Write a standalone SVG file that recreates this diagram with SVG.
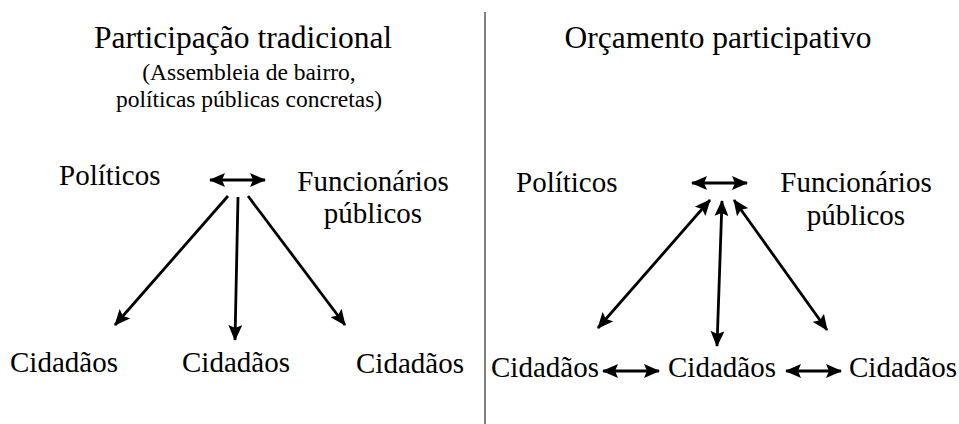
<svg xmlns="http://www.w3.org/2000/svg" width="959" height="424" viewBox="0 0 959 424">
<style>
text{font-family:"Liberation Serif","Times New Roman",serif;fill:#000}
.t{font-size:31.5px;text-anchor:middle}
.s{font-size:23.5px;text-anchor:middle}
.l{font-size:29px}
.c line{stroke:#000;stroke-width:2.8}
</style>
<defs>
<marker id="a" viewBox="0 0 16 14" refX="15" refY="7" markerWidth="16" markerHeight="14" orient="auto-start-reverse" markerUnits="userSpaceOnUse">
<path d="M0,0 L16,7 L0,14 L3,7 Z" fill="#000"/>
</marker>
</defs>
<rect width="959" height="424" fill="#fff"/>
<line x1="485" y1="12" x2="485" y2="424" stroke="#000" stroke-width="1"/>
<g id="title-left"><text class="t" x="243" y="48">Participação tradicional</text>
<text class="s" x="249" y="80">(Assembleia de bairro,</text>
<text class="s" x="249" y="107">políticas públicas concretas)</text></g>
<g id="title-right"><text class="t" x="718" y="48">Orçamento participativo</text></g>
<g id="L-politicos"><text class="l" x="59" y="185">Políticos</text></g>
<g id="L-funcionarios"><text class="l" x="373" y="191" text-anchor="middle">Funcionários</text><text class="l" x="373" y="223" text-anchor="middle">públicos</text></g>
<g id="L-cid1"><text class="l" x="64" y="372" text-anchor="middle">Cidadãos</text></g>
<g id="L-cid2"><text class="l" x="236" y="372" text-anchor="middle">Cidadãos</text></g>
<g id="L-cid3"><text class="l" x="410" y="373" text-anchor="middle">Cidadãos</text></g>
<g id="R-politicos"><text class="l" x="516" y="192">Políticos</text></g>
<g id="R-funcionarios"><text class="l" x="856" y="192" text-anchor="middle">Funcionários</text><text class="l" x="856" y="225" text-anchor="middle">públicos</text></g>
<g id="R-cid1"><text class="l" x="545" y="377" text-anchor="middle">Cidadãos</text></g>
<g id="R-cid2"><text class="l" x="722" y="377" text-anchor="middle">Cidadãos</text></g>
<g id="R-cid3"><text class="l" x="903" y="377" text-anchor="middle">Cidadãos</text></g>
<g id="connectors" class="c">
<line x1="210" y1="180" x2="265" y2="180" marker-start="url(#a)" marker-end="url(#a)"/>
<line x1="228" y1="196" x2="115" y2="325" marker-end="url(#a)"/>
<line x1="238" y1="197" x2="235" y2="340" marker-end="url(#a)"/>
<line x1="248" y1="196" x2="345" y2="325" marker-end="url(#a)"/>
<line x1="692" y1="183" x2="747" y2="183" marker-start="url(#a)" marker-end="url(#a)"/>
<line x1="710" y1="200" x2="598" y2="328" marker-start="url(#a)" marker-end="url(#a)"/>
<line x1="722" y1="201" x2="717" y2="346" marker-start="url(#a)" marker-end="url(#a)"/>
<line x1="734" y1="200" x2="827" y2="330" marker-start="url(#a)" marker-end="url(#a)"/>
<line x1="603" y1="371" x2="659" y2="371" marker-start="url(#a)" marker-end="url(#a)"/>
<line x1="786" y1="371" x2="841" y2="371" marker-start="url(#a)" marker-end="url(#a)"/>
</g>
</svg>
